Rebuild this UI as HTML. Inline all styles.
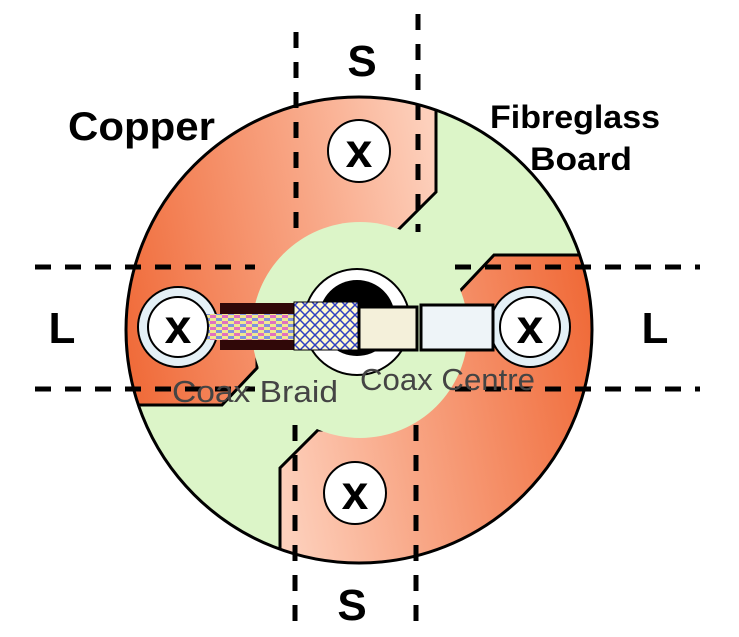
<!DOCTYPE html>
<html><head><style>
html,body{margin:0;padding:0;background:#fff;width:739px;height:637px;overflow:hidden}
svg{display:block}
text{font-family:"Liberation Sans",Arial,sans-serif}
</style></head><body>
<svg width="739" height="637" viewBox="0 0 739 637" xmlns="http://www.w3.org/2000/svg">
<defs>
<linearGradient id="cu" x1="0" y1="0.5" x2="1" y2="0.3">
<stop offset="0" stop-color="#f06a38"/><stop offset="0.6" stop-color="#f8a584"/><stop offset="1" stop-color="#fdd0bc"/>
</linearGradient>
<pattern id="hatch" width="10" height="10" patternUnits="userSpaceOnUse">
<rect width="10" height="10" fill="#fff8d0"/>
<path d="M0 0L10 10M10 0L0 10" stroke="#3040c0" stroke-width="1.5"/>
</pattern>
<pattern id="braid" width="12" height="6" patternUnits="userSpaceOnUse">
<rect width="12" height="6" fill="#f0e890"/>
<rect x="0" y="0" width="6" height="3" fill="#8090e0"/>
<rect x="6" y="3" width="6" height="3" fill="#e070c0"/>
</pattern>
<clipPath id="cc"><circle cx="359" cy="330" r="233"/></clipPath>
</defs>
<circle cx="359" cy="330" r="233" fill="#dcf5c8"/>
<g clip-path="url(#cc)">
<polygon points="100,60 436,60 436,192 398,230 360,230 360,335 257,335 257,368 222,405 100,405" fill="url(#cu)" stroke="#000" stroke-width="3"/>
<polygon points="100,60 436,60 436,192 398,230 360,230 360,335 257,335 257,368 222,405 100,405" fill="url(#cu)" stroke="#000" stroke-width="3" transform="rotate(180 358 330)"/>
<circle cx="360" cy="330" r="108" fill="#dcf5c8"/>
</g>
<circle cx="359" cy="330" r="233" fill="none" stroke="#000" stroke-width="3"/>
<g stroke="#000" stroke-width="5" stroke-dasharray="16,14" fill="none">
<line x1="296" y1="32" x2="296" y2="232"/>
<line x1="418" y1="14" x2="418" y2="232"/>
<line x1="295" y1="425" x2="295" y2="632"/>
<line x1="416" y1="425" x2="416" y2="632"/>
<line x1="35" y1="267" x2="255" y2="267"/>
<line x1="455" y1="267" x2="700" y2="267"/>
<line x1="35" y1="389" x2="255" y2="389"/>
<line x1="455" y1="389" x2="700" y2="389"/>
</g>
<circle cx="357" cy="322" r="53" fill="#fff" stroke="#000" stroke-width="2"/>
<circle cx="357" cy="318" r="38" fill="#000"/>
<g stroke="#000" stroke-width="2">
<circle cx="178" cy="327" r="40" fill="#e4f0f6"/>
<circle cx="530" cy="327" r="40" fill="#e4f0f6"/>
</g>
<rect x="220" y="303" width="76" height="47" fill="#300808"/>
<rect x="206" y="314" width="92" height="26" fill="url(#braid)"/>
<rect x="294" y="302" width="64" height="48" fill="url(#hatch)" stroke="#000" stroke-width="1"/>
<rect x="359" y="307" width="58" height="43" fill="#f4f0da" stroke="#000" stroke-width="3"/>
<rect x="421" y="305" width="72" height="45" fill="#eef4f8" stroke="#000" stroke-width="3"/>
<g stroke="#000" stroke-width="2" fill="#fff">
<circle cx="178" cy="327" r="30"/>
<circle cx="530" cy="327" r="30"/>
<circle cx="359" cy="151" r="31"/>
<circle cx="355" cy="493" r="31"/>
</g>
<g font-weight="bold" font-size="48" text-anchor="middle" fill="#000">
<text x="178" y="343">x</text>
<text x="530" y="343">x</text>
<text x="359" y="167">x</text>
<text x="355" y="509">x</text>
</g>
<g font-weight="bold" fill="#000">
<text x="362" y="76" font-size="44" text-anchor="middle">S</text>
<text x="352" y="620" font-size="44" text-anchor="middle">S</text>
<text x="62" y="343" font-size="44" text-anchor="middle">L</text>
<text x="655" y="343" font-size="44" text-anchor="middle">L</text>
<text x="68" y="140" font-size="40" textLength="147" lengthAdjust="spacingAndGlyphs">Copper</text>
<text x="490" y="128" font-size="32" textLength="170" lengthAdjust="spacingAndGlyphs">Fibreglass</text>
<text x="530" y="170" font-size="32" textLength="102" lengthAdjust="spacingAndGlyphs">Board</text>
</g>
<g fill="#444" font-size="31">
<text x="172" y="402" textLength="166" lengthAdjust="spacingAndGlyphs">Coax Braid</text>
<text x="360" y="390" textLength="175" lengthAdjust="spacingAndGlyphs">Coax Centre</text>
</g>
</svg>
</body></html>
